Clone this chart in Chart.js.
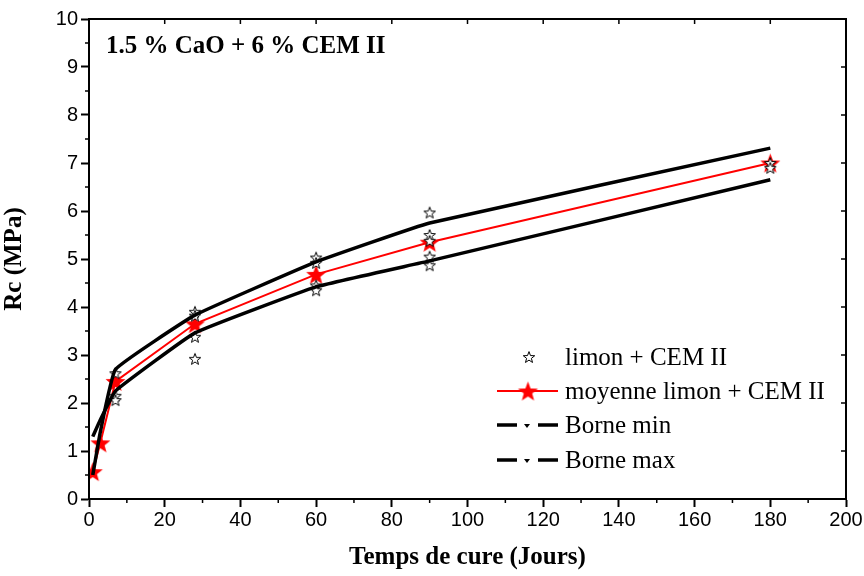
<!DOCTYPE html>
<html>
<head>
<meta charset="utf-8">
<script src="https://cdn.jsdelivr.net/npm/chart.js@4"></script>
<style>
  html, body { margin: 0; padding: 0; background: #fff; }
  #wrap { width: 864px; height: 576px; }
</style>
</head>
<body>
<div id="wrap"><canvas id="rcChart" width="864" height="576"></canvas></div>
<script>
// individual specimens (limon + CEM II)
const indivAges = [7, 7, 7, 28, 28, 28, 28, 60, 60, 60, 60, 90, 90, 90, 90, 90, 180, 180];
const indivRc   = [2.62, 2.15, 2.06, 3.9, 3.82, 3.38, 2.92, 5.03, 4.92, 4.45, 4.35, 5.97, 5.5, 5.38, 5.05, 4.87, 7.0, 6.9];
// mean and bounds
const meanAges = [1, 3, 7, 28, 60, 90, 180];
const meanRc   = [0.57, 1.17, 2.45, 3.65, 4.68, 5.35, 7.0];
const boundAges = [1, 3, 7, 28, 60, 90, 180];
const minRc = [1.3, 1.65, 2.25, 3.46, 4.42, 4.96, 6.65];
const maxRc = [0.5, 1.4, 2.7, 3.83, 4.94, 5.75, 7.31];

const xTicks = [0, 20, 40, 60, 80, 100, 120, 140, 160, 180, 200];
const yTicks = [0, 1, 2, 3, 4, 5, 6, 7, 8, 9, 10];
const title = '1.5 % CaO + 6 % CEM II';
const legendLabels = ['limon + CEM II', 'moyenne limon + CEM II', 'Borne min', 'Borne max'];

const serif = '"Liberation Serif", "Times New Roman", serif';
const sans = '"Liberation Sans", Arial, sans-serif';

function starPath(c, cx, cy, R) {
  const r = R * 0.42;
  c.beginPath();
  for (let i = 0; i < 10; i++) {
    const rad = i % 2 === 0 ? R : r;
    const a = -Math.PI / 2 + i * Math.PI / 5;
    const px = cx + rad * Math.cos(a), py = cy + rad * Math.sin(a);
    if (i === 0) c.moveTo(px, py); else c.lineTo(px, py);
  }
  c.closePath();
}
function makeStar(R, fill, stroke, lw) {
  const s = Math.ceil(R * 2 + lw * 2 + 2);
  const cv = document.createElement('canvas');
  cv.width = s; cv.height = s;
  const c = cv.getContext('2d');
  starPath(c, s / 2, s / 2 + R * 0.1, R);
  if (fill) { c.fillStyle = fill; c.fill(); }
  if (stroke) { c.strokeStyle = stroke; c.lineWidth = lw; c.stroke(); }
  return cv;
}
const hollowStar = makeStar(6, '#fff', '#000', 1);
const redStar = makeStar(10.5, '#ff0000', null, 0);

const toPts = (xs, ys) => xs.map((x, i) => ({x: x, y: ys[i]}));

const decorPlugin = {
  id: 'decor',
  afterDraw(chart) {
    const c = chart.ctx, a = chart.chartArea;
    const xs = chart.scales.x, ys = chart.scales.y;
    c.save();
    c.strokeStyle = '#000';
    c.lineWidth = 2;
    c.strokeRect(a.left, a.top, a.right - a.left, a.bottom - a.top);
    // minor ticks outside, top/right ticks inside
    c.lineWidth = 1.5;
    c.beginPath();
    for (let v = 10; v < 200; v += 20) {
      const px = xs.getPixelForValue(v);
      c.moveTo(px, a.bottom); c.lineTo(px, a.bottom + 4);
    }
    for (let v = 0.5; v < 10; v += 1) {
      const py = ys.getPixelForValue(v);
      c.moveTo(a.left, py); c.lineTo(a.left - 4, py);
    }
    xTicks.forEach(v => { const px = xs.getPixelForValue(v); c.moveTo(px, a.top); c.lineTo(px, a.top + 5); });
    yTicks.forEach(v => { const py = ys.getPixelForValue(v); c.moveTo(a.right, py); c.lineTo(a.right - 5, py); });
    c.stroke();

    // annotation
    c.fillStyle = '#000';
    c.font = 'bold 25px ' + serif;
    c.textBaseline = 'middle';
    c.textAlign = 'left';
    c.fillText(title, 106, 47);

    // legend
    c.font = '25px ' + serif;
    const rows = [357, 391, 425, 460];
    const lx0 = 497, lx1 = 558, tx = 565;
    c.drawImage(hollowStar, 529 - hollowStar.width / 2, rows[0] - hollowStar.height / 2);
    c.strokeStyle = '#ff0000'; c.lineWidth = 2;
    c.beginPath(); c.moveTo(lx0, rows[1]); c.lineTo(lx1, rows[1]); c.stroke();
    c.drawImage(redStar, 528 - redStar.width / 2, rows[1] - redStar.height / 2);
    [rows[2], rows[3]].forEach(y => {
      c.strokeStyle = '#000'; c.lineWidth = 3.5;
      c.beginPath();
      c.moveTo(lx0, y); c.lineTo(lx0 + 20, y);
      c.moveTo(lx1 - 20, y); c.lineTo(lx1, y);
      c.stroke();
      c.beginPath();
      c.moveTo(524, y - 1); c.lineTo(530, y - 1); c.lineTo(527, y + 3); c.closePath();
      c.fillStyle = '#000'; c.fill();
    });
    c.fillStyle = '#000';
    legendLabels.forEach((t, i) => c.fillText(t, tx, rows[i] + 1));
    c.restore();
  }
};

new Chart(document.getElementById('rcChart'), {
  type: 'scatter',
  data: {
    datasets: [
      {
        label: 'Borne min',
        type: 'line',
        data: toPts(boundAges, minRc),
        borderColor: '#000',
        borderWidth: 3.5,
        pointRadius: 0,
        fill: false,
        tension: 0.1
      },
      {
        label: 'Borne max',
        type: 'line',
        data: toPts(boundAges, maxRc),
        borderColor: '#000',
        borderWidth: 3.5,
        pointRadius: 0,
        fill: false,
        tension: 0.1
      },
      {
        label: 'limon + CEM II',
        data: toPts(indivAges, indivRc),
        pointStyle: hollowStar,
        pointRadius: 6
      },
      {
        label: 'moyenne limon + CEM II',
        type: 'line',
        data: toPts(meanAges, meanRc),
        borderColor: '#ff0000',
        borderWidth: 2,
        pointStyle: redStar,
        pointRadius: 10,
        fill: false,
        tension: 0
      }
    ]
  },
  options: {
    responsive: false,
    animation: false,
    layout: { padding: { top: 19, right: 18, left: 0, bottom: 0 } },
    plugins: { legend: { display: false }, tooltip: { enabled: false } },
    scales: {
      x: {
        type: 'linear',
        min: 0, max: 200,
        afterFit(s) { s.height = 77; },
        afterBuildTicks(s) { s.ticks = xTicks.map(v => ({value: v})); },
        grid: { drawOnChartArea: false, color: '#000', tickLength: 8, tickWidth: 2 },
        border: { color: '#000', width: 2 },
        ticks: { color: '#000', font: { family: sans, size: 20 }, padding: 1, maxRotation: 0 },
        title: {
          display: true,
          text: 'Temps de cure (Jours)',
          color: '#000',
          font: { family: serif, size: 25, weight: 'bold' },
          padding: { top: 0, bottom: 3 }
        }
      },
      y: {
        min: 0, max: 10,
        afterFit(s) { s.width = 89; },
        afterBuildTicks(s) { s.ticks = yTicks.map(v => ({value: v})); },
        grid: { drawOnChartArea: false, color: '#000', tickLength: 8, tickWidth: 2 },
        border: { color: '#000', width: 2 },
        ticks: { color: '#000', font: { family: sans, size: 20 }, padding: 3 },
        title: {
          display: true,
          text: 'Rc (MPa)',
          color: '#000',
          font: { family: serif, size: 25, weight: 'bold' },
          padding: { top: 0, bottom: 0 }
        }
      }
    }
  },
  plugins: [decorPlugin]
});
</script>
</body>
</html>
